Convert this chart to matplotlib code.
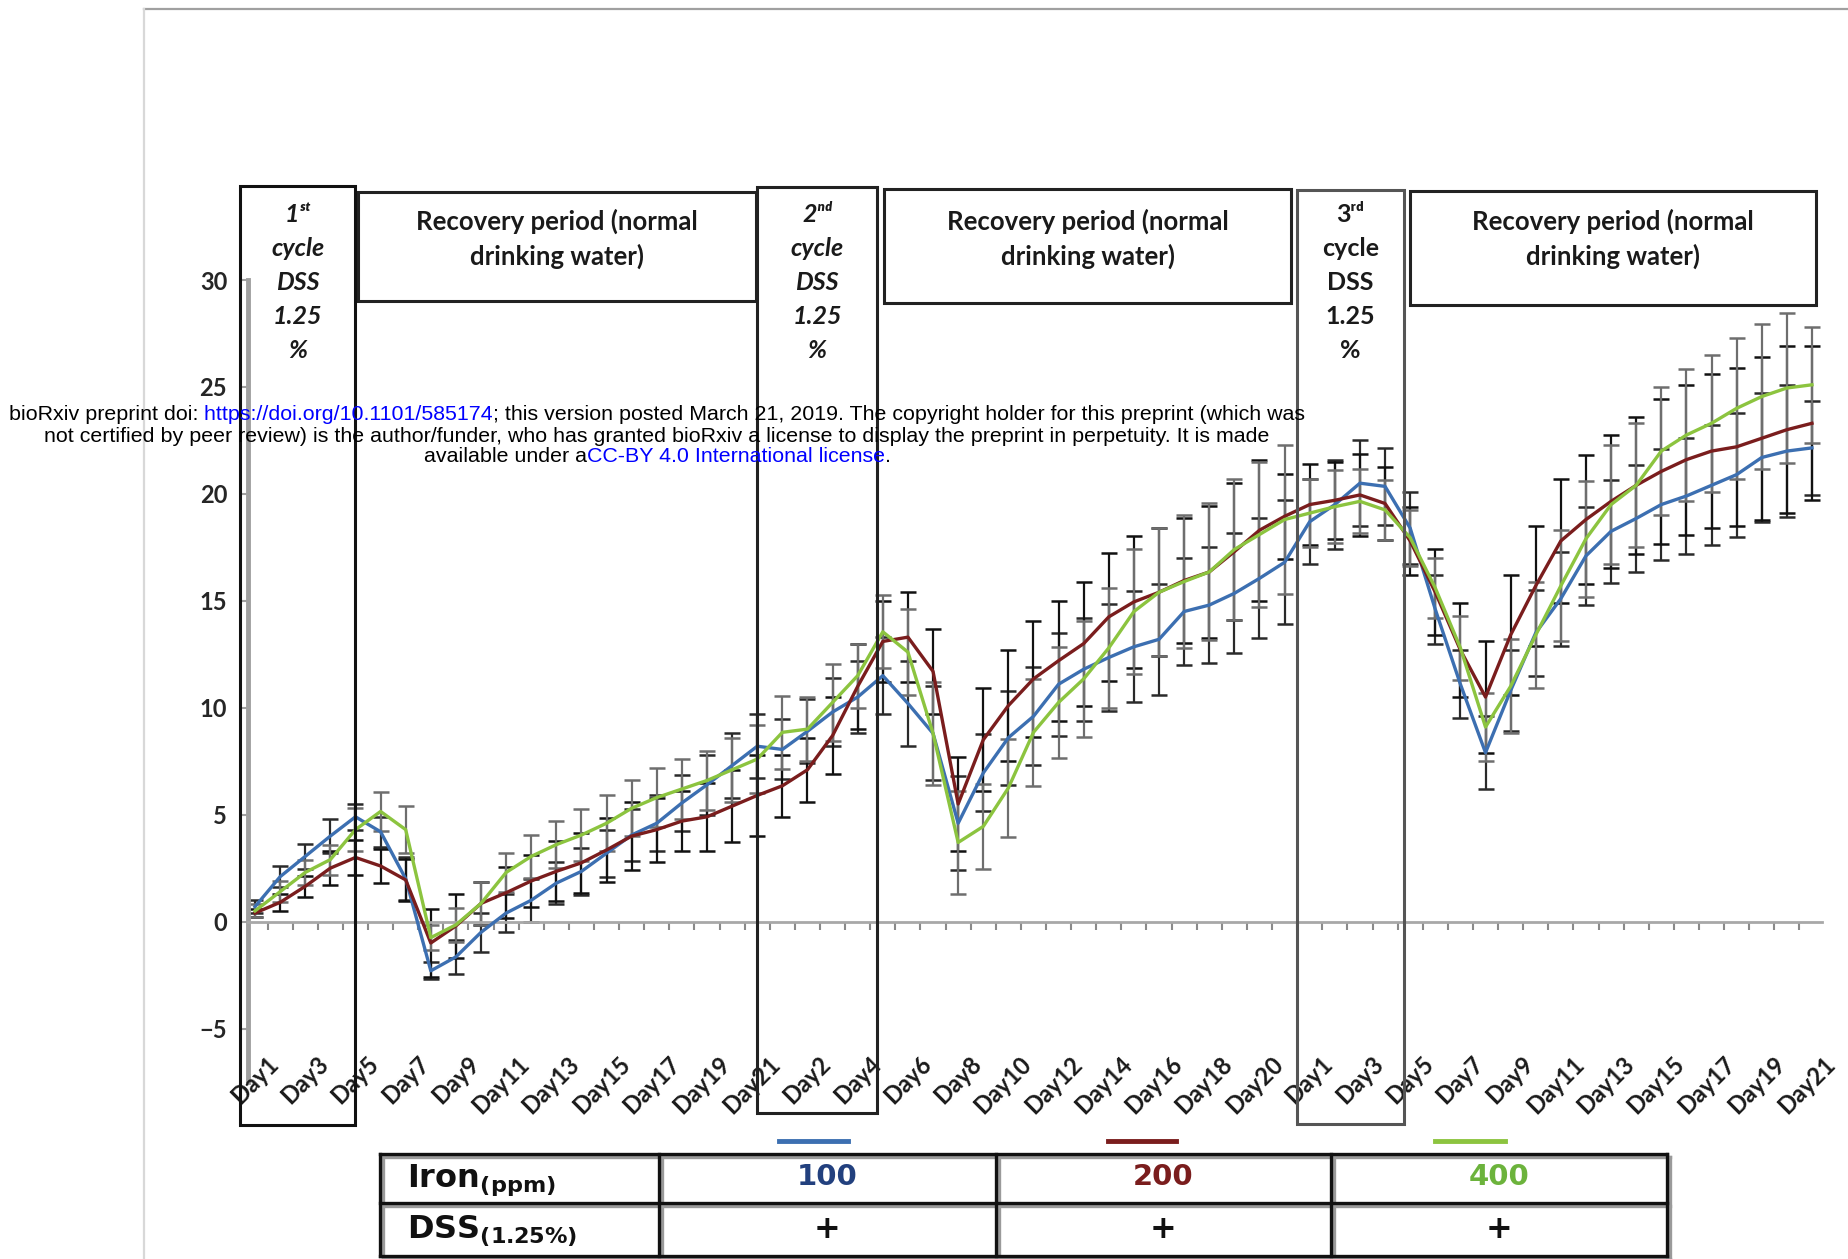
import numpy as np
import matplotlib.pyplot as plt
from matplotlib.patches import Rectangle
from matplotlib.lines import Line2D
from matplotlib.ticker import FixedLocator
from matplotlib.offsetbox import TextArea, HPacker, AnnotationBbox

plt.rcParams['font.family'] = ['Lato', 'DejaVu Sans']
plt.rcParams['mathtext.fontset'] = 'dejavusans'

# three DSS cycles, 21 days each
days = [f'Day{d}' for cycle in range(3) for d in range(1, 22)]

iron_100 = [0.7, 2.1, 3.05, 4.0, 4.9, 4.2, 2.0, -2.3, -1.65, -0.5, 0.4,
            1.0, 1.8, 2.35, 3.2, 4.05, 4.6, 5.55, 6.4, 7.3, 8.2,
            8.05, 8.9, 9.8, 10.5, 11.5, 10.2, 8.8, 4.6, 6.95, 8.6,
            9.6, 11.1, 11.8, 12.35, 12.85, 13.2, 14.5, 14.8, 15.35, 16.05, 16.8,
            18.7, 19.5, 20.5, 20.35, 18.4, 14.6, 11.1, 7.9, 10.8, 13.5,
            15.1, 17.1, 18.25, 18.85, 19.5, 19.9, 20.4, 20.9, 21.7, 22.0, 22.15]
iron_200 = [0.4, 0.9, 1.65, 2.5, 3.0, 2.6, 1.95, -1.0, -0.2, 0.85, 1.35,
            1.9, 2.35, 2.75, 3.35, 4.0, 4.3, 4.7, 4.9, 5.4, 5.9,
            6.35, 7.1, 8.7, 11.0, 13.1, 13.3, 11.7, 5.5, 8.5, 10.1,
            11.35, 12.2, 13.0, 14.25, 14.95, 15.4, 15.95, 16.35, 17.3, 18.3, 18.95,
            19.5, 19.7, 19.95, 19.55, 17.8, 15.4, 12.7, 10.5, 13.4, 15.7,
            17.8, 18.8, 19.65, 20.4, 21.05, 21.6, 22.0, 22.2, 22.6, 23.0, 23.3]
iron_400 = [0.5, 1.4, 2.3, 2.9, 4.3, 5.15, 4.3, -0.75, -0.15, 0.85, 2.3,
            3.05, 3.6, 4.05, 4.6, 5.3, 5.8, 6.2, 6.6, 7.1, 7.6,
            8.85, 9.0, 10.25, 11.5, 13.55, 12.6, 8.8, 3.7, 4.45, 6.25,
            8.85, 10.25, 11.35, 12.8, 14.5, 15.4, 15.9, 16.35, 17.4, 18.1, 18.8,
            19.1, 19.4, 19.65, 19.25, 17.95, 15.6, 12.8, 9.1, 11.0, 13.4,
            15.7, 17.9, 19.5, 20.4, 22.0, 22.75, 23.3, 24.0, 24.55, 24.95, 25.1]

err_100 = [0.3, 0.5, 0.6, 0.8, 0.6, 0.7, 1.0, 0.4, 0.8, 0.9, 0.9,
           1.0, 1.0, 1.1, 1.1, 1.2, 1.3, 1.3, 1.4, 1.5, 1.5,
           1.4, 1.5, 1.6, 1.7, 1.8, 2.0, 2.2, 2.2, 1.8, 2.2,
           2.3, 2.4, 2.4, 2.5, 2.6, 2.6, 2.5, 2.7, 2.8, 2.8, 2.9,
           2.0, 2.1, 2.0, 1.8, 1.7, 1.6, 1.6, 1.7, 1.9, 2.0,
           2.2, 2.3, 2.4, 2.5, 2.6, 2.7, 2.8, 2.9, 3.0, 3.1, 2.2]
err_200 = [0.2, 0.4, 0.5, 0.8, 0.8, 0.8, 1.0, 1.6, 1.5, 1.0, 1.2,
           1.2, 1.4, 1.4, 1.5, 1.6, 1.5, 1.4, 1.6, 1.7, 1.9,
           1.45, 1.5, 1.8, 2.0, 1.9, 2.1, 2.0, 2.2, 2.4, 2.6,
           2.7, 2.8, 2.9, 3.0, 3.1, 3.0, 2.9, 3.1, 3.2, 3.3, 2.0,
           1.9, 1.8, 1.9, 1.7, 1.6, 2.0, 2.2, 2.6, 2.8, 2.8,
           2.9, 3.0, 3.1, 3.2, 3.4, 3.5, 3.6, 3.7, 3.8, 3.9, 3.6]
err_400 = [0.3, 0.5, 0.6, 0.7, 1.0, 0.9, 1.1, 0.6, 0.8, 1.0, 0.9,
           1.0, 1.1, 1.2, 1.3, 1.3, 1.4, 1.4, 1.4, 1.5, 1.6,
           1.7, 1.5, 1.8, 1.5, 1.7, 2.0, 2.4, 2.4, 2.0, 2.3,
           2.5, 2.6, 2.7, 2.8, 2.9, 3.0, 3.1, 3.2, 3.3, 3.4, 3.5,
           1.6, 1.7, 1.5, 1.4, 1.3, 1.4, 1.5, 1.6, 2.2, 2.5,
           2.6, 2.7, 2.8, 2.9, 3.0, 3.1, 3.2, 3.3, 3.4, 3.5, 2.7]

doses = ['100', '200', '400']
series = [iron_100, iron_200, iron_400]
errors = [err_100, err_200, err_400]
line_colors = ['#3c6fb1', '#7a1d1d', '#8cc43f']
err_colors = ['#2a2a2a', '#111111', '#6e6e6e']
dose_colors = ['#22407e', '#7a1d1d', '#6cb33c']

cycle_text = [['1ˢᵗ', 'cycle', 'DSS', '1.25', '%'],
              ['2ⁿᵈ', 'cycle', 'DSS', '1.25', '%'],
              ['3ʳᵈ', 'cycle', 'DSS', '1.25', '%']]
recovery_text = 'Recovery period (normal\ndrinking water)'

W, H = 1849, 1259
fig = plt.figure(figsize=(W / 100, H / 100), dpi=100)


def fx(px):
    return px / W


def fy(py):
    return 1 - py / H


ax = fig.add_axes([fx(248), fy(1082), (1822 - 248) / W, (1082 - 280) / H])
ax.set_xlim(-0.28, 62.4)
ax.set_ylim(-7.5, 30)


def yv(py):
    # pixel row -> data value
    return 30 - (py - 280) / (802 / 37.5)


x = np.arange(len(days))
for vals, err, lc, ec in zip(series, errors, line_colors, err_colors):
    ax.errorbar(x, vals, yerr=err, fmt='none', ecolor=ec, elinewidth=1.6,
                capsize=6, capthick=1.8, zorder=2, clip_on=False)
    ax.plot(x, vals, color=lc, lw=2.4, zorder=3, clip_on=False)

for s in ['top', 'right']:
    ax.spines[s].set_visible(False)
ax.spines['left'].set_color('#a0a0a0')
ax.spines['left'].set_linewidth(3.5)
ax.spines['bottom'].set_position(('data', 0))
ax.spines['bottom'].set_color('#a8a8a8')
ax.spines['bottom'].set_linewidth(2)

ax.set_yticks(range(-5, 31, 5))
ax.tick_params(axis='y', length=5, width=1.5, color='#a0a0a0', pad=10,
               labelsize=17, labelcolor='#262626')
for t in ax.get_yticklabels():
    t.set_fontweight('bold')
ax.set_xticks([])
ax.xaxis.set_minor_locator(FixedLocator(np.arange(0.5, 62, 1)))
ax.tick_params(axis='x', which='minor', length=6, width=1.5,
               color='#8a8a8a', direction='out')

for i in range(0, len(days), 2):
    ax.text(i + 0.45, -6.1, days[i], rotation=45, rotation_mode='anchor',
            ha='right', va='top', fontsize=17, fontweight='bold',
            color='#1a1a1a')

# treatment / recovery boxes
cycle_boxes = [(-0.6, 4.0, yv(186), yv(1125)),
               (20.0, 24.75, yv(187), yv(1113)),
               (41.5, 45.75, yv(190), yv(1124))]
recovery_boxes = [(4.1, 19.95, yv(192), yv(301)),
                  (25.05, 41.26, yv(189), yv(303)),
                  (46.0, 62.17, yv(191), yv(305))]
edge_cols = ['#111111', '#222222', '#555555']

for (x0, x1, y1, y0), lines, ital, ecol in zip(cycle_boxes, cycle_text,
                                             [True, True, False], edge_cols):
    ax.add_patch(Rectangle((x0, y0), x1 - x0, y1 - y0, fill=False,
                           ec=ecol, lw=2.2, clip_on=False, zorder=4))
    for k, s in enumerate(lines):
        ax.text((x0 + x1) / 2, yv(215 + 34 * k), s, ha='center', va='center',
                fontsize=18, fontweight='bold',
                fontstyle='italic' if ital else 'normal', color='#1a1a1a',
                clip_on=False)

for x0, x1, y1, y0 in recovery_boxes:
    ax.add_patch(Rectangle((x0, y0), x1 - x0, y1 - y0, fill=False,
                           ec='#222222', lw=2.2, clip_on=False, zorder=4))
    ax.text((x0 + x1) / 2, yv(239), recovery_text, ha='center', va='center',
            fontsize=18.5, fontweight='bold', color='#1a1a1a', linespacing=1.45)

# dose table under the chart
col_edges = [380, 659, 996, 1331, 1667]
row_edges = [1154, 1203, 1256]
for off, col in [(3, '#9a9a9a'), (0, '#111111')]:
    for r in row_edges:
        fig.add_artist(Line2D([fx(col_edges[0] + off), fx(col_edges[-1] + off)],
                              [fy(r + off), fy(r + off)], color=col, lw=2.4))
    for c in col_edges:
        fig.add_artist(Line2D([fx(c + off), fx(c + off)],
                              [fy(row_edges[0] + off), fy(row_edges[-1] + off)],
                              color=col, lw=2.4))

fig.text(fx(407), fy(1180), r'$\mathbf{Iron}_{\mathbf{(ppm)}}$', fontsize=23,
         ha='left', va='center', color='#111111')
fig.text(fx(407), fy(1231), r'$\mathbf{DSS}_{\mathbf{(1.25\%)}}$', fontsize=23,
         ha='left', va='center', color='#111111')

key_x = [(779, 848), (1108, 1176), (1435, 1505)]
for k, (d, lc, dc) in enumerate(zip(doses, line_colors, dose_colors)):
    cx = (col_edges[k + 1] + col_edges[k + 2]) / 2
    fig.text(fx(cx), fy(1177), d, fontsize=21, fontweight='bold',
             family='DejaVu Sans', ha='center', va='center', color=dc)
    fig.text(fx(cx), fy(1230), '+', fontsize=23, fontweight='bold',
             family='DejaVu Sans', ha='center', va='center', color='#111111')
    fig.add_artist(Line2D([fx(key_x[k][0]), fx(key_x[k][1])],
                          [fy(1141), fy(1141)], color=lc, lw=3.5))

# page borders
fig.add_artist(Line2D([fx(144), 1], [fy(9), fy(9)], color='#a0a0a0', lw=1.6))
fig.add_artist(Line2D([fx(144), fx(144)], [fy(9), 0], color='#d8d8d8', lw=1.6))

# preprint notice
notice = [
    [('bioRxiv preprint doi:', 'black'),
     (' https://doi.org/10.1101/585174', '#0000ff'),
     ('; this version posted March 21, 2019. The copyright holder for this '
      'preprint (which was', 'black')],
    [('not certified by peer review) is the author/funder, who has granted '
      'bioRxiv a license to display the preprint in perpetuity. It is made',
      'black')],
    [('available under a', 'black'),
     ('CC-BY 4.0 International license', '#0000ff'),
     ('.', 'black')],
]
for row, py in zip(notice, [415, 436, 456]):
    areas = [TextArea(s, textprops=dict(color=c, fontsize=15.4,
                                        family='Liberation Sans'))
             for s, c in row]
    box = HPacker(children=areas, align='baseline', pad=0, sep=0)
    fig.add_artist(AnnotationBbox(box, (fx(657), fy(py)),
                                  xycoords='figure fraction', frameon=False,
                                  box_alignment=(0.5, 0.5), zorder=10))

fig.savefig('out.png', dpi=100)
